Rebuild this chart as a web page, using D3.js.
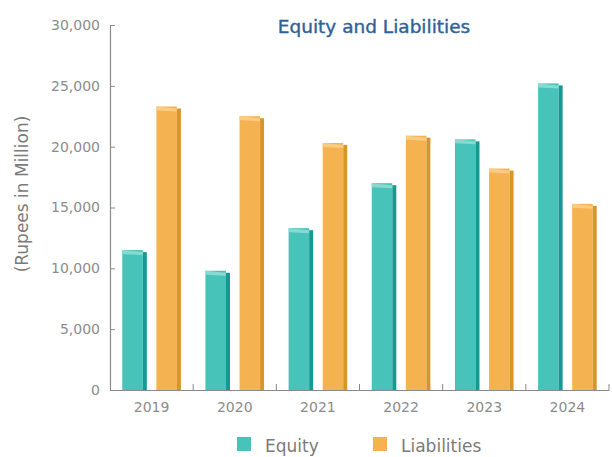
<!DOCTYPE html>
<html>
<head>
<meta charset="utf-8">
<script src="https://cdn.jsdelivr.net/npm/d3@7/dist/d3.min.js"></script>
<style>
  html, body { margin: 0; padding: 0; background: #fff; }
  svg { display: block; font-family: "DejaVu Sans", "Liberation Sans", Arial, sans-serif; }
</style>
</head>
<body>
<svg id="chart" width="612" height="457"></svg>
<script>
// Equity and liabilities, Rupees in Million
const years = ["2019", "2020", "2021", "2022", "2023", "2024"];
const equity = [11500, 9800, 13300, 17000, 20600, 25200];
const liabilities = [23300, 22500, 20300, 20900, 18200, 15300];
const seriesNames = ["Equity", "Liabilities"];
const yTicks = [0, 5000, 10000, 15000, 20000, 25000, 30000];

const colors = {
  Equity: { face: "#48c3b9", edge: "#149a93", cap: "#93ddd6" },
  Liabilities: { face: "#f4b350", edge: "#d8962a", cap: "#f9d08a" }
};

const svg = d3.select("#chart");
const plotLeft = 110, plotRight = 609, plotBase = 390, plotTop = 25;

const x = d3.scaleBand().domain(years).range([plotLeft, plotRight]).paddingInner(0).paddingOuter(0);
const y = d3.scaleLinear().domain([0, 30000]).range([plotBase, plotTop]);
const xs = d3.scaleBand().domain(seriesNames).range([0, x.bandwidth()]).paddingInner(0.28).paddingOuter(0.36);

const rows = years.map((yr, i) => ({ year: yr, Equity: equity[i], Liabilities: liabilities[i] }));

// Bars with a darker right edge and a lighter slanted top cap
const g = svg.append("g");
const edgeW = 4;
rows.forEach(r => {
  seriesNames.forEach(s => {
    const x0 = x(r.year) + xs(s);
    const w = xs.bandwidth();
    const t = y(r[s]);
    const b = y(0);
    const c = colors[s];
    g.append("rect").attr("x", x0).attr("y", t).attr("width", w - edgeW).attr("height", b - t).attr("fill", c.face);
    g.append("rect").attr("x", x0 + w - edgeW).attr("y", t + 2).attr("width", edgeW).attr("height", b - t - 2).attr("fill", c.edge);
    g.append("path")
      .attr("d", `M${x0},${t} L${x0 + w - edgeW},${t + 2} L${x0 + w - edgeW},${t + 5} L${x0},${t + 4} Z`)
      .attr("fill", c.cap).attr("opacity", 0.85);
  });
});

// Y axis
const yAxis = d3.axisRight(y).tickValues(yTicks).tickSize(5).tickFormat(d3.format(","));
const ya = svg.append("g").attr("transform", `translate(${plotLeft},0)`).call(yAxis);
ya.select(".domain").attr("stroke", "#8a8a8a").attr("stroke-width", 1.2);
ya.selectAll(".tick line").attr("stroke", "#8a8a8a");
ya.selectAll(".tick text").attr("x", -10).attr("text-anchor", "end")
  .attr("fill", "#8c8c8c").style("font-size", "14px").style("font-family", "DejaVu Sans");

// X axis
const xAxis = d3.axisBottom(x).tickSize(0);
const xa = svg.append("g").attr("transform", `translate(0,${plotBase})`).call(xAxis);
xa.select(".domain").attr("stroke", "#8a8a8a").attr("stroke-width", 1.2);
xa.selectAll(".tick text").attr("y", 22).attr("dy", null).attr("fill", "#8c8c8c")
  .style("font-size", "14px").style("font-family", "DejaVu Sans");
// small boundary ticks pointing up
svg.append("g").selectAll("line").data(years).join("line")
  .attr("x1", d => x(d) + x.bandwidth())
  .attr("x2", d => x(d) + x.bandwidth())
  .attr("y1", plotBase).attr("y2", plotBase - 6).attr("stroke", "#8a8a8a");

// Y title
svg.append("text").attr("transform", "translate(28,194) rotate(-90)")
  .attr("text-anchor", "middle").attr("fill", "#7a7a7a").style("font-size", "17px")
  .text("(Rupees in Million)");

// Title
svg.append("text").attr("x", 374).attr("y", 33).attr("text-anchor", "middle")
  .attr("fill", "#2f6299").attr("stroke", "#2f6299").attr("stroke-width", 0.4)
  .style("font-size", "18.5px")
  .text("Equity and Liabilities");

// Legend
const legend = svg.append("g");
const legendPos = [{ s: "Equity", x: 237 }, { s: "Liabilities", x: 373 }];
legendPos.forEach(p => {
  legend.append("rect").attr("x", p.x).attr("y", 437).attr("width", 14).attr("height", 14).attr("fill", colors[p.s].face);
  legend.append("text").attr("x", p.x + 28).attr("y", 452).attr("fill", "#7a7a7a")
    .style("font-size", "17px").text(p.s);
});
</script>
</body>
</html>
